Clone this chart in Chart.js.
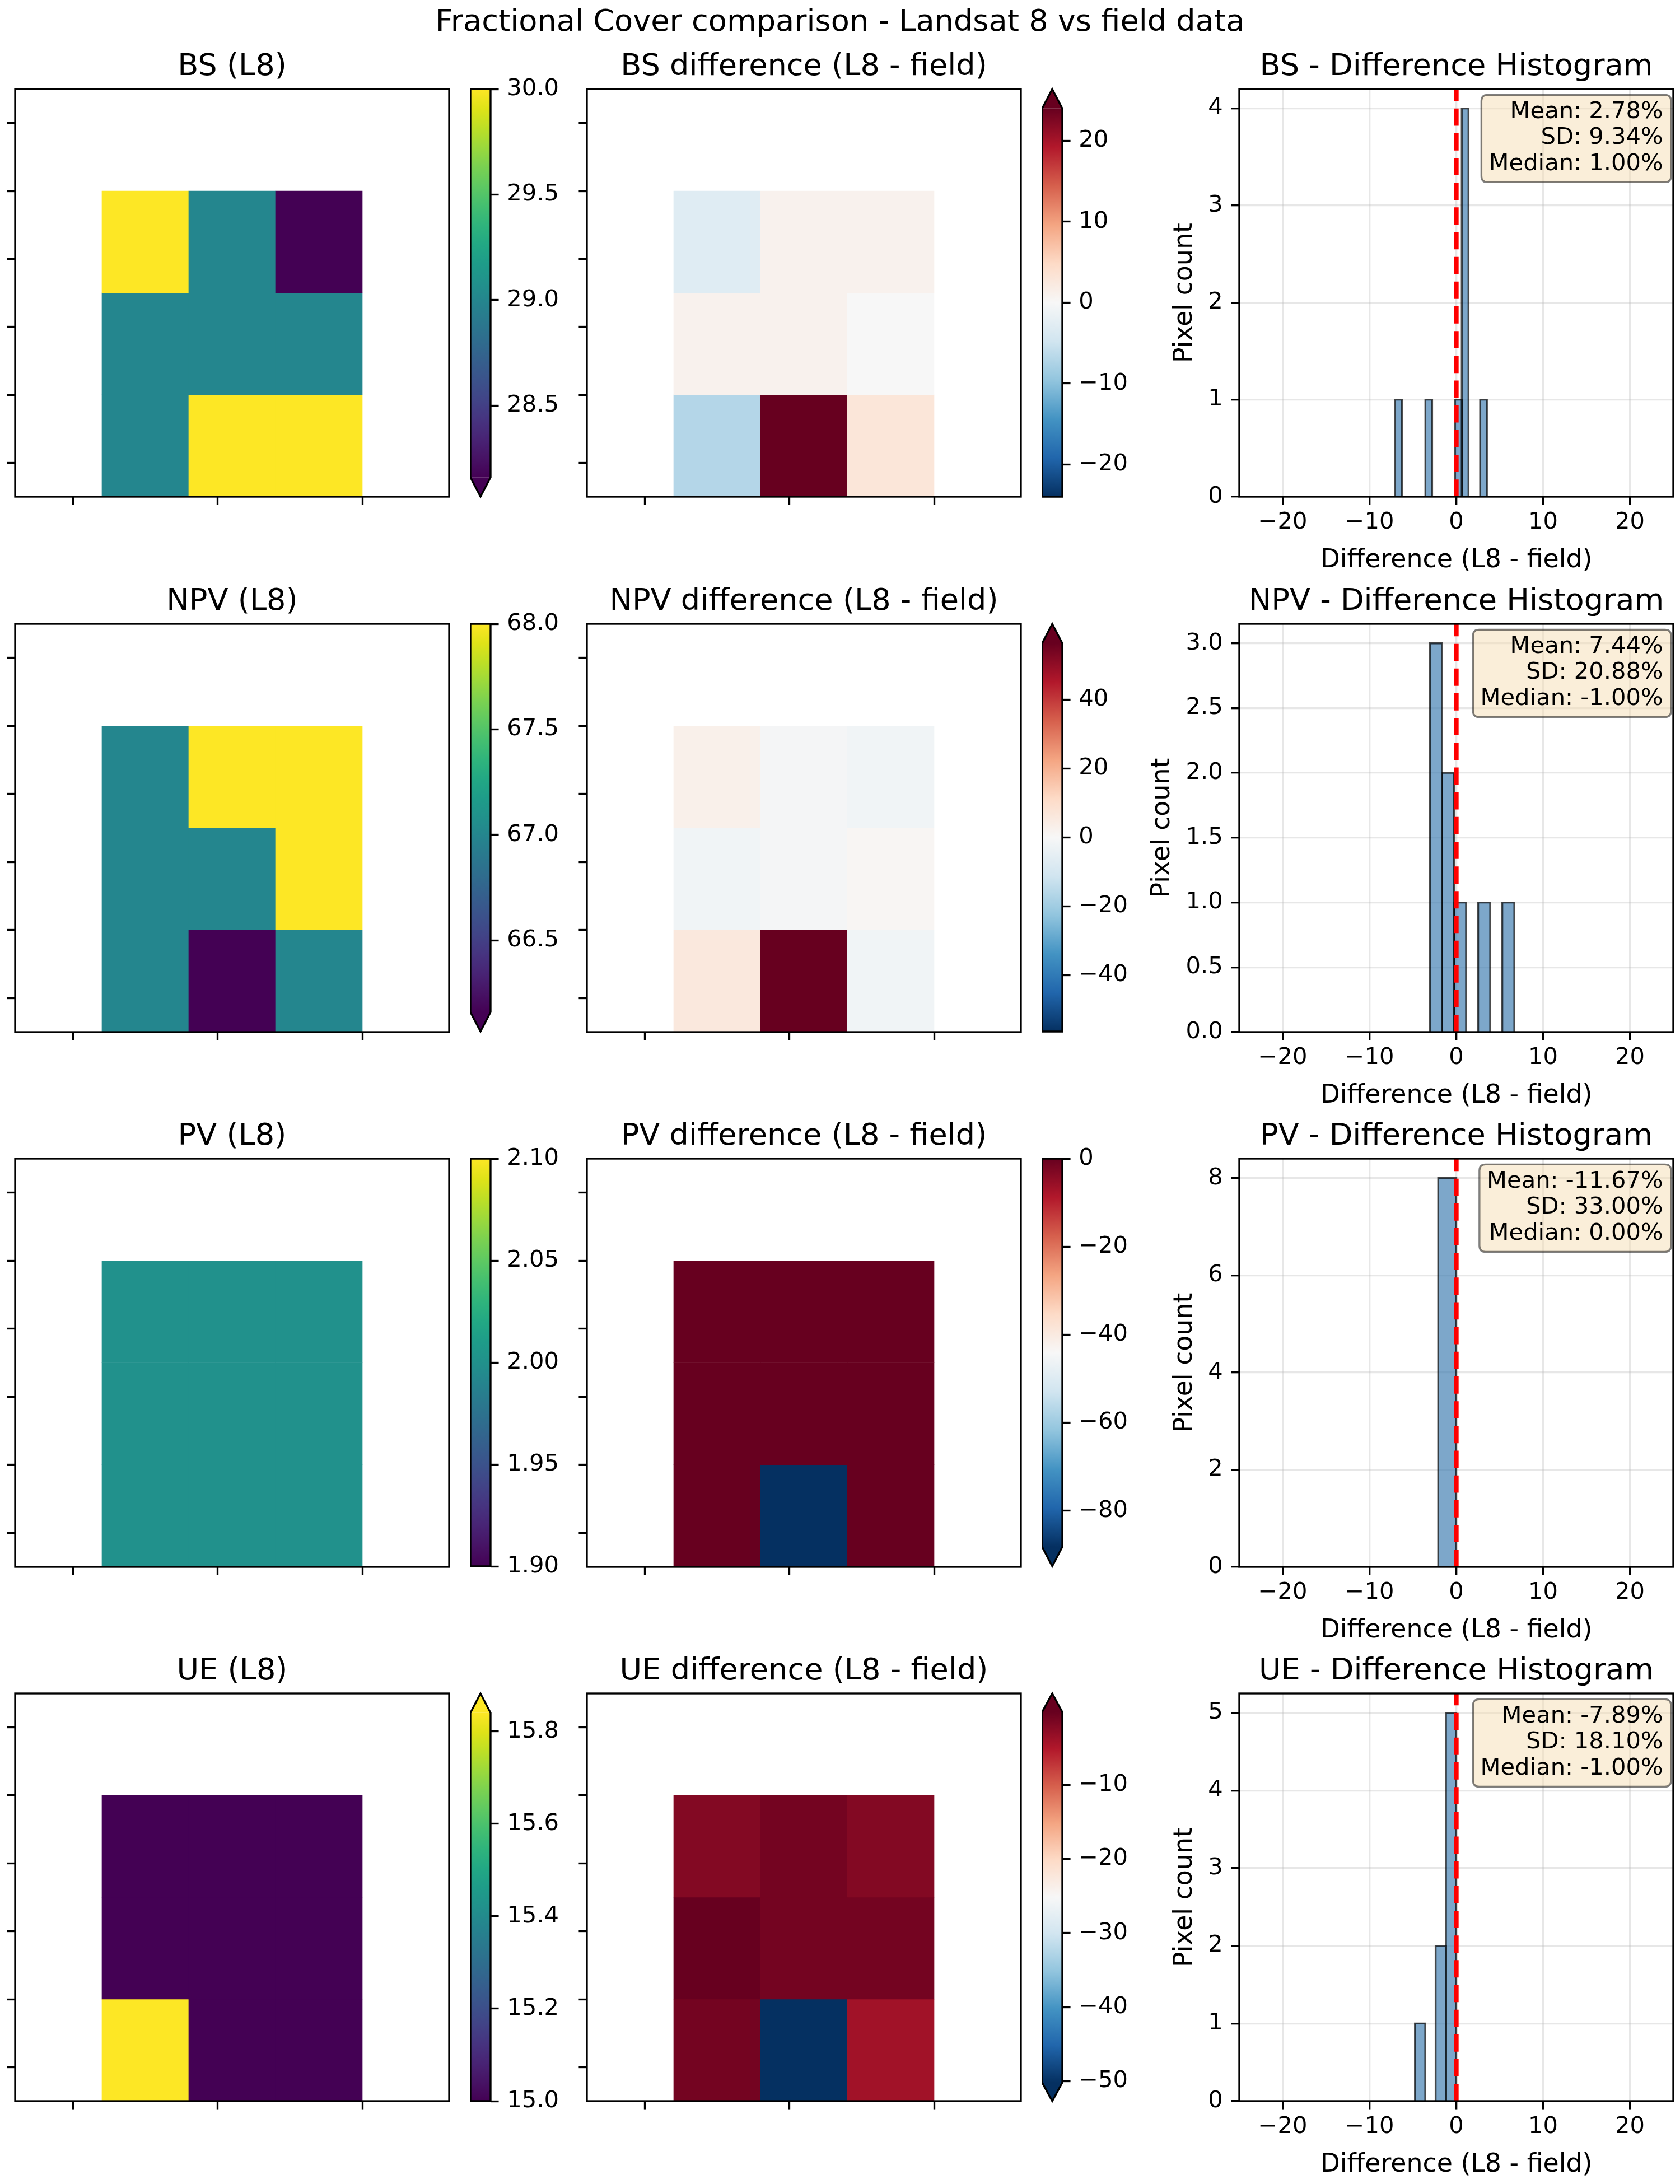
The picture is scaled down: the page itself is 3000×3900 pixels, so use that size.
<!DOCTYPE html>
<html>
<head>
<meta charset="utf-8">
<script src="https://cdn.jsdelivr.net/npm/chart.js@4.4.1/dist/chart.umd.min.js"></script>
<style>
html,body{margin:0;padding:0;background:#fff;width:3000px;height:3900px;overflow:hidden;}
#fig{position:relative;width:3000px;height:3900px;background:#fff;}
canvas{position:absolute;}
#suptitle{position:absolute;left:0;top:10px;width:3000px;text-align:center;font-family:'DejaVu Sans',sans-serif;font-size:54.17px;line-height:54.17px;color:#000;white-space:nowrap;}
</style>
</head>
<body>
<div id="fig"><div id="suptitle">Fractional Cover comparison - Landsat 8 vs field data</div></div>
<script>
// ------------------------------------------------------------------
// DATA
// ------------------------------------------------------------------
const categories = ['BS', 'NPV', 'PV', 'UE'];

// Landsat 8 fractional cover grids (4 rows x 5 columns, null = no data)
const bsL8  = [[null,null,null,null,null],[null,30,29,28,null],[null,29,29,29,null],[null,29,30,30,null]];
const npvL8 = [[null,null,null,null,null],[null,67,68,68,null],[null,67,67,68,null],[null,67,66,67,null]];
const pvL8  = [[null,null,null,null,null],[null,2,2,2,null],[null,2,2,2,null],[null,2,2,2,null]];
const ueL8  = [[null,null,null,null,null],[null,15,15,15,null],[null,15,15,15,null],[null,16,15,15,null]];

// Difference grids (L8 - field)
const bsDiff  = [[null,null,null,null,null],[null,-3,1,1,null],[null,1,1,0,null],[null,-7,28,3,null]];
const npvDiff = [[null,null,null,null,null],[null,3,-1,-2,null],[null,-2,-1,1,null],[null,6,66,-2,null]];
const pvDiff  = [[null,null,null,null,null],[null,0,0,0,null],[null,0,0,0,null],[null,0,-105,0,null]];
const ueDiff  = [[null,null,null,null,null],[null,-2,-1,-2,null],[null,0,-1,-1,null],[null,-1,-59,-4,null]];

// Colour limits / colourbar ticks for the L8 maps
const l8Vmin    = [28.16, 66.16, 1.90, 15.00];
const l8Vmax    = [30.00, 68.00, 2.10, 15.84];
const l8Extend  = ['min', 'min', 'neither', 'max'];
const l8Ticks   = [[28.5,29.0,29.5,30.0],[66.5,67.0,67.5,68.0],[1.90,1.95,2.00,2.05,2.10],[15.0,15.2,15.4,15.6,15.8]];
const l8TickDec = [1, 1, 2, 1];

// Colour limits / colourbar ticks for the difference maps
const diffVmin   = [-24, -56.4, -88.2, -50.2];
const diffVmax   = [24, 56.4, 0, -0.16];
const diffExtend = ['max', 'max', 'min', 'both'];
const diffTicks  = [[-20,-10,0,10,20],[-40,-20,0,20,40],[-80,-60,-40,-20,0],[-50,-40,-30,-20,-10]];

// Histogram bins (left edge, right edge, count)
const bsHistLeft   = [-7.05, -3.56, -0.15, 0.63, 2.75];
const bsHistRight  = [-6.27, -2.78, 0.63, 1.41, 3.53];
const bsHistCount  = [1, 1, 1, 4, 1];
const npvHistLeft  = [-3.04, -1.65, -0.26, 2.52, 5.30];
const npvHistRight = [-1.65, -0.26, 1.13, 3.91, 6.69];
const npvHistCount = [3, 2, 1, 1, 1];
const pvHistLeft   = [-2.08];
const pvHistRight  = [0];
const pvHistCount  = [8];
const ueHistLeft   = [-4.76, -2.38, -1.19];
const ueHistRight  = [-3.57, -1.19, 0];
const ueHistCount  = [1, 2, 5];

const histXMin = -25, histXMax = 25;
const histXTicks = [-20, -10, 0, 10, 20];
const histYMax   = [4.2, 3.15, 8.4, 5.25];
const histYTicks = [[0,1,2,3,4],[0,0.5,1,1.5,2,2.5,3],[0,2,4,6,8],[0,1,2,3,4,5]];
const histYDec   = [0, 1, 0, 0];

// Statistics shown in the boxes
const statMean   = ['2.78', '7.44', '-11.67', '-7.89'];
const statSD     = ['9.34', '20.88', '33.00', '18.10'];
const statMedian = ['1.00', '-1.00', '0.00', '-1.00'];

// Heatmap axis tick positions (unlabelled)
const hmXTicks = [0.667, 2.333, 4.0];
const hmYTicks = [0.333, 1.0, 1.667, 2.333, 3.0, 3.667];

// ------------------------------------------------------------------
// STYLE / LAYOUT
// ------------------------------------------------------------------
const PT = 300 / 72;
const FS_TICK = 10 * PT, FS_TITLE = 13 * PT, FS_LABEL = 11 * PT, FS_STATS = 10 * PT;
const LW = 0.8 * PT, TICK_LEN = 3.5 * PT, TICK_PAD = 3.5 * PT;
const RED_LW = 2 * PT;
const ROW_TOP = [159, 1114, 2069, 3024];
const AX_H = 728, AX_W = 775;
const HM_L = [27, 1048];
const CB_L = [840, 1861], CB_W = 36;
const HI_L = 2213;
const HI_YW = [140, 180, 140, 140];
const YLABEL_MID = [2116, 2076, 2116, 2116];

const FONT = "'DejaVu Sans', sans-serif";
Chart.defaults.font.family = FONT;
Chart.defaults.color = '#000';
Chart.defaults.animation = false;

const VIRIDIS = ['#440154','#471365','#482475','#463480','#414487','#3b528b','#355f8d','#2f6c8e','#2a788e','#25848e','#21918c','#1e9c89','#22a884','#2fb47c','#44bf70','#5ec962','#7ad151','#9bd93c','#bddf26','#dfe318','#fde725'];
const RDBU_R = ['#053061','#2166ac','#4393c3','#92c5de','#d1e5f0','#f7f7f7','#fddbc7','#f4a582','#d6604d','#b2182b','#67001f'];

function hexRgb(h) { return [parseInt(h.slice(1,3),16), parseInt(h.slice(3,5),16), parseInt(h.slice(5,7),16)]; }
function sampleMap(stops, t) {
  t = Math.max(0, Math.min(1, t));
  const n = stops.length - 1, p = t * n;
  const i = Math.min(Math.floor(p), n - 1), f = p - i;
  const a = hexRgb(stops[i]), b = hexRgb(stops[i + 1]);
  return 'rgb(' + [0,1,2].map(k => Math.round(a[k] + (b[k] - a[k]) * f)).join(',') + ')';
}
function fmt(v, dec) {
  const s = Math.abs(v).toFixed(dec);
  return (v < 0 && Math.abs(v) > 1e-9 ? '\u2212' : '') + s;
}

const fig = document.getElementById('fig');
function makeCanvas(left, top, w, h) {
  const c = document.createElement('canvas');
  c.width = w; c.height = h;
  c.style.left = left + 'px'; c.style.top = top + 'px';
  c.style.width = w + 'px'; c.style.height = h + 'px';
  fig.appendChild(c);
  return c;
}

const framePlugin = {
  id: 'frame',
  afterDatasetsDraw(chart) {
    const {ctx, chartArea: a} = chart;
    ctx.save();
    ctx.strokeStyle = '#000';
    ctx.lineWidth = LW;
    ctx.strokeRect(a.left, a.top, a.right - a.left, a.bottom - a.top);
    ctx.restore();
  }
};

// title box geometry (baseline ~20 px above axes)
const TITLE_LH = FS_TITLE * 1.2;
const TITLE_PB = 20 - (0.6 - 0.346) * FS_TITLE;
const TITLE_BOX = 10 + TITLE_LH + TITLE_PB;

function titleOpts(text, extraTop) {
  return {display: true, text: text, fullSize: false, color: '#000',
          font: {size: FS_TITLE, weight: 'normal', family: FONT},
          padding: {top: 10 + extraTop, bottom: TITLE_PB}};
}

function tickOnlyAxis(extra) {
  return Object.assign({
    type: 'linear', offset: false,
    ticks: {callback: () => '', autoSkip: false, padding: 0, font: {size: 8}, maxRotation: 0},
    grid: {display: true, offset: false, drawOnChartArea: false, drawTicks: true,
           tickLength: TICK_LEN, tickWidth: LW, tickColor: '#000'},
    border: {display: false}
  }, extra);
}

// ------------------------------------------------------------------
// HEATMAP
// ------------------------------------------------------------------
function heatmap(axLeft, axTop, grid, vmin, vmax, stops, title) {
  const YW = 24, PADR = 10, XH = 20;
  const rawTop = axTop - TITLE_BOX;
  const top = Math.floor(rawTop);
  const cv = makeCanvas(axLeft - YW, top, YW + AX_W + PADR, Math.ceil(TITLE_BOX + (rawTop - top)) + AX_H + XH);
  const datasets = grid.map((row, r) => {
    const cells = [], colors = [];
    row.forEach((v, c) => {
      if (v === null) return;
      cells.push({x: c + 0.5, y: [r, r + 1]});
      colors.push(sampleMap(stops, (v - vmin) / (vmax - vmin)));
    });
    return {data: cells, backgroundColor: colors, borderWidth: 0, grouped: false,
            barPercentage: 1, categoryPercentage: 1};
  });
  new Chart(cv, {
    type: 'bar',
    data: {datasets},
    options: {
      responsive: false, maintainAspectRatio: false, animation: false, devicePixelRatio: 1,
      layout: {padding: {left: 0, right: PADR, top: 0, bottom: 0}},
      plugins: {legend: {display: false}, tooltip: {enabled: false}, title: titleOpts(title, rawTop - top)},
      scales: {
        x: tickOnlyAxis({min: 0, max: 5,
             afterBuildTicks: s => { s.ticks = hmXTicks.map(v => ({value: v})); },
             afterFit: s => { s.height = XH; }}),
        y: tickOnlyAxis({min: 0, max: 4, reverse: true,
             afterBuildTicks: s => { s.ticks = hmYTicks.map(v => ({value: v})); },
             afterFit: s => { s.width = YW; }})
      }
    },
    plugins: [framePlugin]
  });
}

// ------------------------------------------------------------------
// COLORBAR
// ------------------------------------------------------------------
function colorbar(cbLeft, axTop, vmin, vmax, extend, ticks, dec, stops) {
  const e = 0.05 * (vmax - vmin);
  const eMin = extend === 'min' || extend === 'both';
  const eMax = extend === 'max' || extend === 'both';
  const lo = eMin ? vmin - e : vmin;
  const hi = eMax ? vmax + e : vmax;
  const PADV = 50, RW = 150;
  const cv = makeCanvas(cbLeft, axTop - PADV, CB_W + RW, AX_H + 2 * PADV);

  const outline = [];
  if (eMax) outline.push({x: 0, y: vmax}, {x: 0.5, y: hi}, {x: 1, y: vmax});
  else outline.push({x: 0, y: vmax}, {x: 1, y: vmax});
  outline.push({x: 1, y: vmin});
  if (eMin) outline.push({x: 0.5, y: lo}, {x: 0, y: vmin});
  else outline.push({x: 0, y: vmin});
  outline.push({x: 0, y: vmax}, outline[1]);

  const gradFill = (ctx) => {
    const chart = ctx.chart;
    if (!chart.chartArea || !chart.scales.y) return stops[0];
    const y0 = chart.scales.y.getPixelForValue(vmin);
    const y1 = chart.scales.y.getPixelForValue(vmax);
    const g = chart.ctx.createLinearGradient(0, y0, 0, y1);
    stops.forEach((s, k) => g.addColorStop(k / (stops.length - 1), s));
    return g;
  };

  const datasets = [
    {data: outline, borderColor: '#000', borderWidth: LW, fill: false, pointRadius: 0,
     borderJoinStyle: 'miter', clip: false, order: 0, tension: 0},
    {data: [{x: 0, y: vmax}, {x: 1, y: vmax}], fill: {value: vmin}, backgroundColor: gradFill,
     borderColor: 'rgba(0,0,0,0)', borderWidth: 0, pointRadius: 0, order: 1}
  ];
  if (eMin) datasets.push({data: [{x: 0, y: vmin}, {x: 0.5, y: lo}, {x: 1, y: vmin}], fill: {value: vmin},
     backgroundColor: sampleMap(stops, 0), borderColor: 'rgba(0,0,0,0)', borderWidth: 0, pointRadius: 0, order: 1});
  if (eMax) datasets.push({data: [{x: 0, y: vmax}, {x: 0.5, y: hi}, {x: 1, y: vmax}], fill: {value: vmax},
     backgroundColor: sampleMap(stops, 1), borderColor: 'rgba(0,0,0,0)', borderWidth: 0, pointRadius: 0, order: 1});

  new Chart(cv, {
    type: 'line',
    data: {datasets},
    options: {
      responsive: false, maintainAspectRatio: false, animation: false, devicePixelRatio: 1,
      layout: {padding: {left: 0, right: 0, top: PADV, bottom: PADV}},
      plugins: {legend: {display: false}, tooltip: {enabled: false}},
      scales: {
        x: {type: 'linear', min: 0, max: 1, display: false},
        y: {type: 'linear', position: 'right', min: lo, max: hi,
            afterBuildTicks: s => { s.ticks = ticks.map(v => ({value: v})); },
            ticks: {callback: v => fmt(v, dec), autoSkip: false, padding: TICK_PAD, font: {size: FS_TICK}},
            grid: {display: true, drawOnChartArea: false, drawTicks: true, tickLength: TICK_LEN,
                   tickWidth: LW, tickColor: '#000'},
            border: {display: false},
            afterFit: s => { s.width = RW; }}
      }
    }
  });
}

// ------------------------------------------------------------------
// HISTOGRAM
// ------------------------------------------------------------------
function statsPlugin(lines) {
  return {
    id: 'statsBox',
    afterDraw(chart) {
      const {ctx, chartArea: a} = chart;
      ctx.save();
      ctx.font = FS_STATS + 'px ' + FONT;
      const tw = Math.max(...lines.map(s => ctx.measureText(s).width));
      const textR = a.right - 18.3;
      const R = a.right - 4, T = a.top + 10.3, B = a.top + 166.4, L = textR - tw - 13.2;
      const rad = 11;
      ctx.beginPath();
      ctx.moveTo(L + rad, T);
      ctx.lineTo(R - rad, T); ctx.quadraticCurveTo(R, T, R, T + rad);
      ctx.lineTo(R, B - rad); ctx.quadraticCurveTo(R, B, R - rad, B);
      ctx.lineTo(L + rad, B); ctx.quadraticCurveTo(L, B, L, B - rad);
      ctx.lineTo(L, T + rad); ctx.quadraticCurveTo(L, T, L + rad, T);
      ctx.closePath();
      ctx.fillStyle = 'rgba(245,222,179,0.5)';
      ctx.fill();
      ctx.strokeStyle = 'rgba(0,0,0,0.5)';
      ctx.lineWidth = LW;
      ctx.stroke();
      ctx.fillStyle = '#000';
      ctx.textAlign = 'right';
      ctx.textBaseline = 'alphabetic';
      lines.forEach((s, i) => ctx.fillText(s, textR, a.top + 51.6 + i * 46.5));
      ctx.restore();
    }
  };
}

function histogram(i, left, right, count, title) {
  const YW = HI_YW[i], PADR = 10, XH = 150;
  const axTop = ROW_TOP[i];
  const rawTop = axTop - TITLE_BOX;
  const top = Math.floor(rawTop);
  const cv = makeCanvas(HI_L - YW, top, YW + AX_W + PADR, Math.ceil(TITLE_BOX + (rawTop - top)) + AX_H + XH);
  const ymax = histYMax[i];
  const datasets = [
    {data: [{x: 0, y: 0}, {x: 0, y: ymax}], borderColor: '#ff0000', borderWidth: RED_LW,
     borderDash: [3.7 * RED_LW, 1.6 * RED_LW], fill: false, pointRadius: 0, order: 0}
  ];
  left.forEach((x0, k) => {
    const x1 = right[k], h = count[k];
    datasets.push({data: [{x: x0, y: 0}, {x: x0, y: h}, {x: x1, y: h}, {x: x1, y: 0}],
      fill: 'origin', backgroundColor: 'rgba(70,130,180,0.7)', borderColor: 'rgba(0,0,0,0.7)',
      borderWidth: LW, borderJoinStyle: 'miter', pointRadius: 0, tension: 0, order: 1});
  });
  const gridOpts = {display: true, drawOnChartArea: true, drawTicks: true, color: 'rgba(176,176,176,0.3)',
                    lineWidth: LW, tickLength: TICK_LEN, tickWidth: LW, tickColor: '#000', offset: false};
  new Chart(cv, {
    type: 'line',
    data: {datasets},
    options: {
      responsive: false, maintainAspectRatio: false, animation: false, devicePixelRatio: 1,
      layout: {padding: {left: 0, right: PADR, top: 0, bottom: 0}},
      plugins: {legend: {display: false}, tooltip: {enabled: false}, title: titleOpts(title, rawTop - top)},
      scales: {
        x: {type: 'linear', min: histXMin, max: histXMax, offset: false,
            afterBuildTicks: s => { s.ticks = histXTicks.map(v => ({value: v})); },
            ticks: {callback: v => fmt(v, 0), autoSkip: false, maxRotation: 0, padding: 7, font: {size: FS_TICK}},
            grid: gridOpts, border: {display: false},
            title: {display: true, text: 'Difference (L8 - field)', font: {size: FS_LABEL}, padding: {top: 0, bottom: 8.4}},
            afterFit: s => { s.height = XH; }},
        y: {type: 'linear', min: 0, max: ymax,
            afterBuildTicks: s => { s.ticks = histYTicks[i].map(v => ({value: v})); },
            ticks: {callback: v => fmt(v, histYDec[i]), autoSkip: false, padding: TICK_PAD, font: {size: FS_TICK}},
            grid: gridOpts, border: {display: false},
            title: {display: true, text: 'Pixel count', font: {size: FS_LABEL},
                    padding: {top: YLABEL_MID[i] - (HI_L - YW) - FS_LABEL * 0.6, bottom: 0}},
            afterFit: s => { s.width = YW; }}
      }
    },
    plugins: [framePlugin, statsPlugin(['Mean: ' + statMean[i] + '%', 'SD: ' + statSD[i] + '%', 'Median: ' + statMedian[i] + '%'])]
  });
}

// ------------------------------------------------------------------
// BUILD FIGURE
// ------------------------------------------------------------------
const l8Grids = [bsL8, npvL8, pvL8, ueL8];
const diffGrids = [bsDiff, npvDiff, pvDiff, ueDiff];
const histL = [bsHistLeft, npvHistLeft, pvHistLeft, ueHistLeft];
const histR = [bsHistRight, npvHistRight, pvHistRight, ueHistRight];
const histC = [bsHistCount, npvHistCount, pvHistCount, ueHistCount];

categories.forEach((cat, i) => {
  const top = ROW_TOP[i];
  heatmap(HM_L[0], top, l8Grids[i], l8Vmin[i], l8Vmax[i], VIRIDIS, cat + ' (L8)');
  colorbar(CB_L[0], top, l8Vmin[i], l8Vmax[i], l8Extend[i], l8Ticks[i], l8TickDec[i], VIRIDIS);
  heatmap(HM_L[1], top, diffGrids[i], diffVmin[i], diffVmax[i], RDBU_R, cat + ' difference (L8 - field)');
  colorbar(CB_L[1], top, diffVmin[i], diffVmax[i], diffExtend[i], diffTicks[i], 0, RDBU_R);
  histogram(i, histL[i], histR[i], histC[i], cat + ' - Difference Histogram');
});
</script>
</body>
</html>
